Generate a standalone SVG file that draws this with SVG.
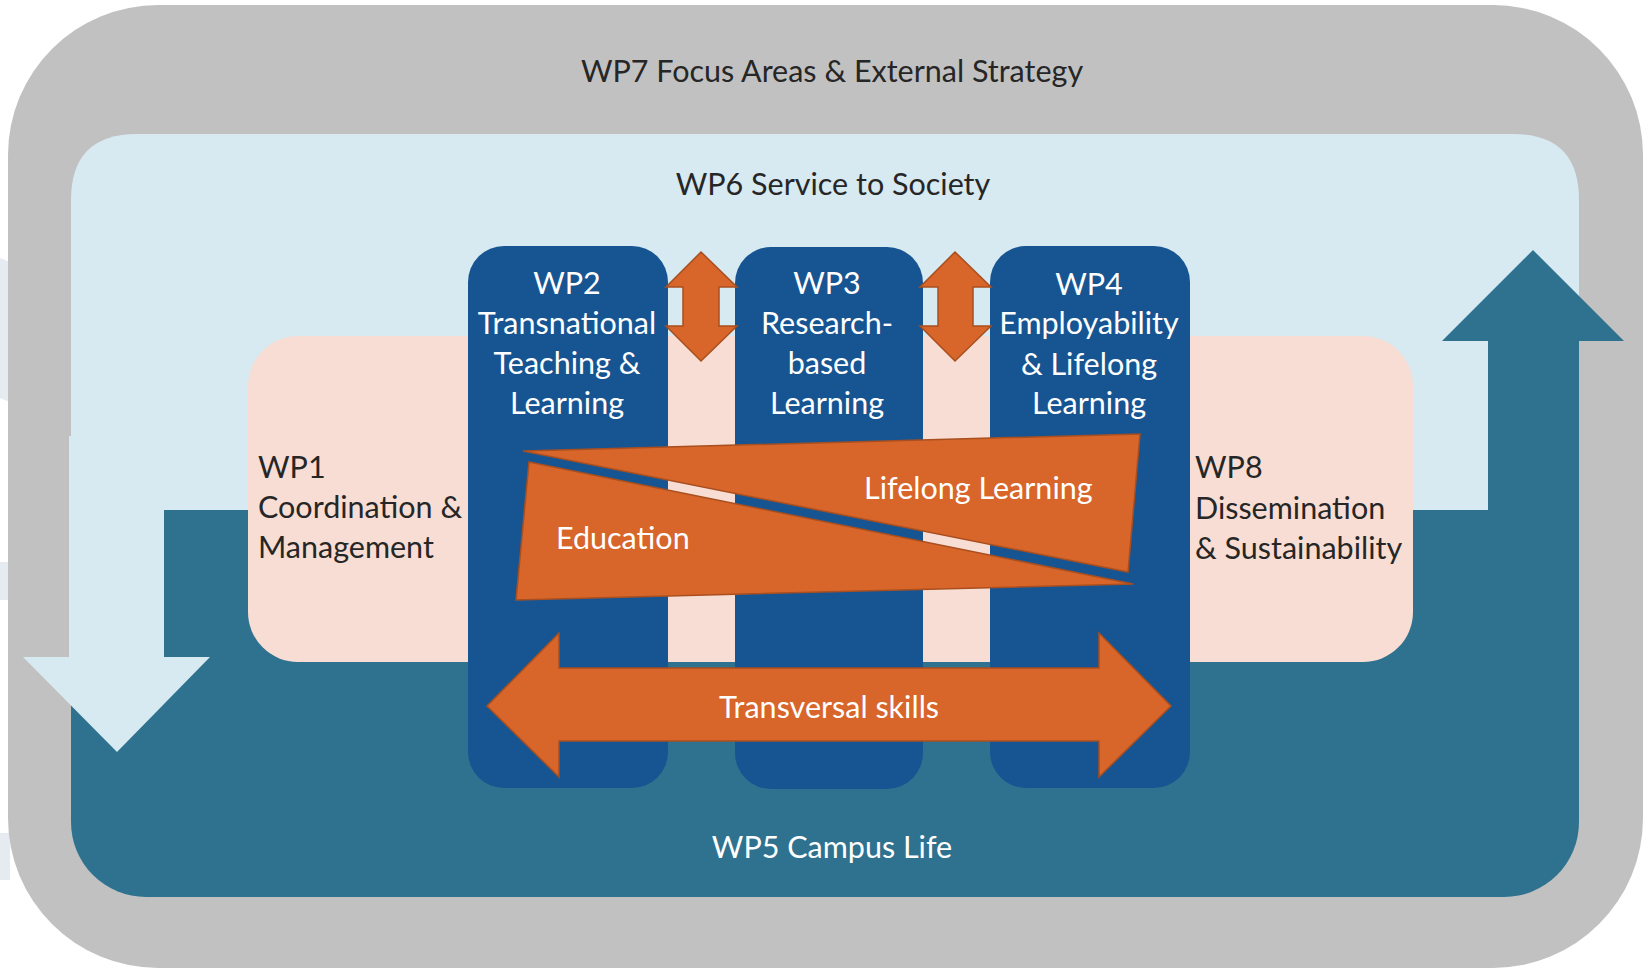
<svg xmlns="http://www.w3.org/2000/svg" width="1649" height="970" viewBox="0 0 1649 970">
<defs>
<style>
.t{font-family:Lato,"Liberation Sans",sans-serif;font-size:30.5px;fill:#262626}
.w{fill:#ffffff}
.c{text-anchor:middle}
.col{fill:#175592}
.or{fill:#D8652A;stroke:#A94F1F;stroke-width:1.5;stroke-linejoin:miter}
</style>
</defs>
<rect width="1649" height="970" fill="#ffffff"/>
<g id="faint" fill="#E6EAF1">
<path d="M0 258 L10 262 L10 402 L0 398 Z"/>
<rect x="0" y="562" width="10" height="38"/>
<rect x="0" y="833" width="10" height="47"/>
</g>
<g id="wp7">
<rect x="8" y="5" width="1635" height="963" rx="150" ry="150" fill="#C1C1C1"/>
<text class="t c" x="832" y="82">WP7 Focus Areas &amp; External Strategy</text>
</g>
<g id="wp5">
<rect x="71" y="134" width="1508" height="763" rx="75" ry="75" fill="#2E728F"/>
</g>
<g id="wp6">
<path d="M71 510 L71 200 Q71 134 137 134 L1513 134 Q1579 134 1579 200 L1579 510 Z" fill="#D7E9F1"/>
<text class="t c" x="833" y="195">WP6 Service to Society</text>
</g>
<g id="connectors">
<polygon id="up-arrow" points="1488,640 1488,341 1442,341 1533,250 1624,341 1579,341 1579,640" fill="#2E728F"/>
<polygon id="down-arrow" points="69,436 164,436 164,657 210,657 117,752 23,657 69,657" fill="#D7E9F1"/>
</g>
<g id="wp5-label">
<text class="t c w" x="832" y="858">WP5 Campus Life</text>
</g>
<g id="wp1-wp8-band">
<rect x="248" y="336" width="1165" height="326" rx="50" ry="50" fill="#F7DDD3"/>
</g>
<g id="wp1">
<text class="t" x="258" y="478">WP1</text>
<text class="t" x="258" y="518">Coordination &amp;</text>
<text class="t" x="258" y="558">Management</text>
</g>
<g id="wp8">
<text class="t" x="1195" y="478">WP8</text>
<text class="t" x="1195" y="519">Dissemination</text>
<text class="t" x="1195" y="559">&amp; Sustainability</text>
</g>
<g id="wp2">
<rect class="col" x="468" y="246" width="200" height="542" rx="36" ry="36"/>
<text class="t c w" x="567" y="294">WP2</text>
<text class="t c w" x="567" y="334">Transnational</text>
<text class="t c w" x="567" y="374">Teaching &amp;</text>
<text class="t c w" x="567" y="414">Learning</text>
</g>
<g id="wp3">
<rect class="col" x="735" y="247" width="188" height="542" rx="36" ry="36"/>
<text class="t c w" x="827" y="294">WP3</text>
<text class="t c w" x="827" y="334">Research-</text>
<text class="t c w" x="827" y="374">based</text>
<text class="t c w" x="827" y="414">Learning</text>
</g>
<g id="wp4">
<rect class="col" x="990" y="246" width="200" height="542" rx="36" ry="36"/>
<text class="t c w" x="1089" y="295">WP4</text>
<text class="t c w" x="1089" y="334">Employability</text>
<text class="t c w" x="1089" y="375">&amp; Lifelong</text>
<text class="t c w" x="1089" y="414">Learning</text>
</g>
<g id="links">
<polygon class="or" points="701,252 737,287 719,287 719,326 737,326 701,361 666,326 683,326 683,287 666,287"/>
<polygon class="or" points="955,252 991,287 973,287 973,326 991,326 955,361 920,326 938,326 938,287 920,287"/>
</g>
<g id="lifelong">
<polygon class="or" points="523,451 1140,434 1128,572"/>
<text class="t w" x="864" y="499">Lifelong Learning</text>
</g>
<g id="education">
<polygon class="or" points="529,462 1133,584 516,600"/>
<text class="t w" x="556" y="549">Education</text>
</g>
<g id="transversal">
<polygon class="or" points="487,706 559,633 559,668 1099,668 1099,633 1171,706 1099,777 1099,741 559,741 559,777"/>
<text class="t c w" x="829" y="718">Transversal skills</text>
</g>
</svg>
